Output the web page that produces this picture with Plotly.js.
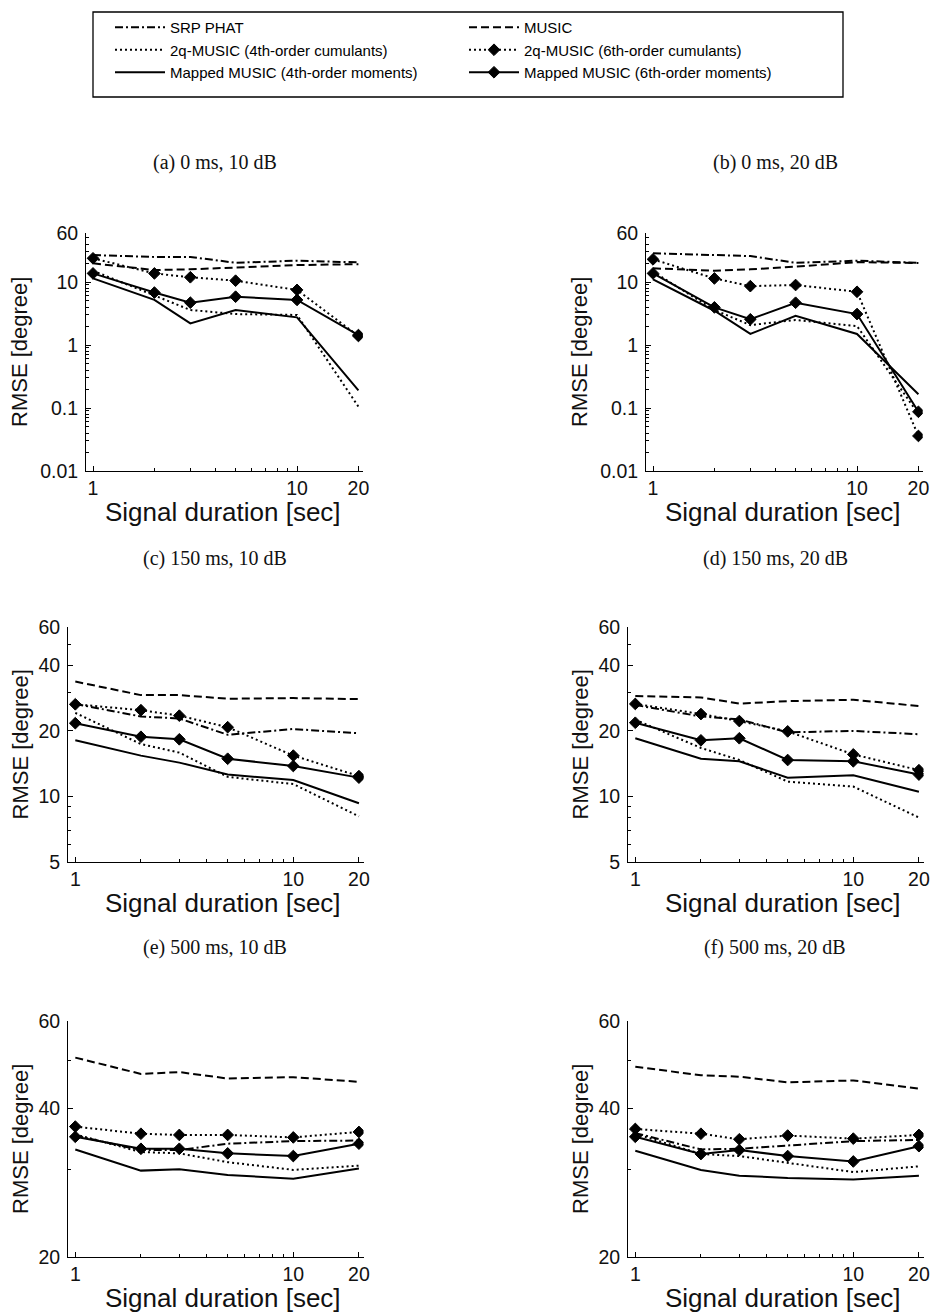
<!DOCTYPE html>
<html>
<head>
<meta charset="utf-8">
<script src="https://cdn.plot.ly/plotly-3.0.1.min.js"></script>
<style>
  html, body { margin: 0; padding: 0; background: #fff; }
  #chart { width: 933px; height: 1315px; }
</style>
</head>
<body>
<div id="chart"></div>
<script>
// ---------- data ----------
const durations = [1, 2, 3, 5, 10, 20];
const seriesNames = ["SRP PHAT", "MUSIC", "2q-MUSIC (4th-order cumulants)", "2q-MUSIC (6th-order cumulants)",
                     "Mapped MUSIC (4th-order moments)", "Mapped MUSIC (6th-order moments)"];
const panelTitles = ["(a) 0 ms, 10 dB", "(b) 0 ms, 20 dB", "(c) 150 ms, 10 dB",
                     "(d) 150 ms, 20 dB", "(e) 500 ms, 10 dB", "(f) 500 ms, 20 dB"];
const xTickVals = [1, 10, 20];
const xTickText = ["1", "10", "20"];
const yTickVals1 = [0.01, 0.1, 1, 10, 60];
const yTickText1 = ["0.01", "0.1", "1", "10", "60"];
const yTickVals2 = [5, 10, 20, 40, 60];
const yTickText2 = ["5", "10", "20", "40", "60"];
const yTickVals3 = [20, 40, 60];
const yTickText3 = ["20", "40", "60"];

// (a) 0 ms, 10 dB
const srp_a   = [26.8, 25.0, 25.0, 20.2, 21.8, 20.5];
const music_a = [19.8, 15.5, 15.9, 17.1, 18.6, 19.2];
const q4_a    = [15.1, 6.2, 3.6, 3.1, 3.0, 0.105];
const q6_a    = [23.8, 13.7, 11.9, 10.5, 7.5, 1.39];
const m4_a    = [11.4, 5.2, 2.2, 3.6, 2.75, 0.19];
const m6_a    = [13.7, 6.8, 4.7, 5.85, 5.2, 1.44];
// (b) 0 ms, 20 dB
const srp_b   = [28.6, 26.8, 25.8, 20.2, 21.8, 20.2];
const music_b = [16.5, 15.1, 15.9, 17.5, 20.7, 20.0];
const q4_b    = [14.6, 3.6, 2.07, 2.5, 2.0, 0.08];
const q6_b    = [22.9, 11.4, 8.6, 8.96, 7.0, 0.036];
const m4_b    = [11.0, 3.5, 1.5, 2.9, 1.5, 0.165];
const m6_b    = [13.7, 3.96, 2.56, 4.69, 3.1, 0.087];
// (c) 150 ms, 10 dB
const srp_c   = [26.6, 23.3, 22.8, 19.2, 20.4, 19.5];
const music_c = [33.7, 29.2, 29.2, 28.1, 28.3, 28.0];
const q4_c    = [24.2, 17.4, 15.9, 12.3, 11.4, 8.1];
const q6_c    = [26.5, 24.9, 23.5, 20.8, 15.4, 12.4];
const m4_c    = [18.1, 15.4, 14.3, 12.6, 11.9, 9.3];
const m6_c    = [21.7, 18.8, 18.3, 14.9, 13.8, 12.2];
// (d) 150 ms, 20 dB
const srp_d   = [26.3, 23.3, 22.6, 19.7, 20.0, 19.3];
const music_d = [28.9, 28.5, 26.7, 27.4, 27.8, 26.0];
const q4_d    = [22.5, 16.7, 14.7, 11.7, 11.1, 8.0];
const q6_d    = [26.6, 23.9, 22.2, 19.9, 15.6, 13.2];
const m4_d    = [18.5, 14.9, 14.5, 12.2, 12.5, 10.5];
const m6_d    = [21.8, 18.1, 18.5, 14.7, 14.5, 12.6];
// (e) 500 ms, 10 dB
const srp_e   = [35.2, 32.9, 32.9, 33.9, 34.3, 34.4];
const music_e = [50.6, 46.9, 47.3, 45.9, 46.2, 45.2];
const q4_e    = [35.4, 32.6, 32.4, 31.1, 30.0, 30.6];
const q6_e    = [36.7, 35.5, 35.3, 35.3, 34.9, 35.8];
const m4_e    = [33.0, 29.9, 30.1, 29.3, 28.8, 30.2];
const m6_e    = [35.0, 33.1, 33.1, 32.4, 32.0, 33.9];
// (f) 500 ms, 20 dB
const srp_f   = [35.6, 33.0, 33.1, 33.6, 34.3, 34.5];
const music_f = [48.5, 46.6, 46.3, 45.1, 45.5, 43.8];
const q4_f    = [35.5, 32.3, 32.0, 31.0, 29.7, 30.5];
const q6_f    = [36.3, 35.5, 34.6, 35.2, 34.7, 35.3];
const m4_f    = [32.8, 30.0, 29.2, 28.9, 28.7, 29.2];
const m6_f    = [35.0, 32.3, 32.9, 32.0, 31.2, 33.5];

const panelData = [
  [srp_a, music_a, q4_a, q6_a, m4_a, m6_a],
  [srp_b, music_b, q4_b, q6_b, m4_b, m6_b],
  [srp_c, music_c, q4_c, q6_c, m4_c, m6_c],
  [srp_d, music_d, q4_d, q6_d, m4_d, m6_d],
  [srp_e, music_e, q4_e, q6_e, m4_e, m6_e],
  [srp_f, music_f, q4_f, q6_f, m4_f, m6_f]
];

// ---------- layout geometry (pixels) ----------
const W = 933, H = 1315;
const styles = [
  {dash: "8px,3px,2px,3px", marker: false},
  {dash: "8px,4px", marker: false},
  {dash: "2px,3px", marker: false},
  {dash: "2px,3px", marker: true},
  {dash: "solid", marker: false},
  {dash: "solid", marker: true}
];
const panels = [
  {l: 86,  r: 362.7, t: 233,  b: 471,  ty: 162, xr: [-0.0343, 1.322], yr: [-2, Math.log10(60)], yt: [yTickVals1, yTickText1]},
  {l: 646, r: 922.7, t: 233,  b: 471,  ty: 162, xr: [-0.0343, 1.322], yr: [-2, Math.log10(60)], yt: [yTickVals1, yTickText1]},
  {l: 68,  r: 363.5, t: 627,  b: 862,  ty: 559, xr: [-0.0335, 1.322], yr: [Math.log10(5), Math.log10(60)], yt: [yTickVals2, yTickText2]},
  {l: 628, r: 923.5, t: 627,  b: 862,  ty: 559, xr: [-0.0335, 1.322], yr: [Math.log10(5), Math.log10(60)], yt: [yTickVals2, yTickText2]},
  {l: 68,  r: 363.5, t: 1021, b: 1257, ty: 947, xr: [-0.0335, 1.322], yr: [Math.log10(20), Math.log10(60)], yt: [yTickVals3, yTickText3]},
  {l: 628, r: 923.5, t: 1021, b: 1257, ty: 947, xr: [-0.0335, 1.322], yr: [Math.log10(20), Math.log10(60)], yt: [yTickVals3, yTickText3]}
];

const sans = "Liberation Sans, Arial, sans-serif";
const tickFont = {family: sans, size: 19.5, color: "#111"};
const traces = [];
const layout = {
  width: W, height: H,
  margin: {l: 0, r: 0, t: 0, b: 0},
  paper_bgcolor: "#fff", plot_bgcolor: "#fff",
  showlegend: true,
  legend: {
    orientation: "h", x: 110 / W, xanchor: "left", y: 1 - 11 / H, yanchor: "top",
    borderwidth: 0, bgcolor: "rgba(0,0,0,0)",
    font: {family: sans, size: 15, color: "#000"},
    itemwidth: 50, entrywidth: 289, traceorder: "normal", itemclick: false
  },
  shapes: [{
    type: "rect", xref: "paper", yref: "paper",
    x0: 93 / W, x1: 843 / W, y0: 1 - 97 / H, y1: 1 - 12 / H,
    line: {color: "#000", width: 1.3}, fillcolor: "rgba(0,0,0,0)", layer: "below"
  }],
  annotations: []
};

panels.forEach((p, i) => {
  const k = i + 1;
  const xa = "xaxis" + (k === 1 ? "" : k), ya = "yaxis" + (k === 1 ? "" : k);
  const xr = "x" + (k === 1 ? "" : k), yr = "y" + (k === 1 ? "" : k);
  layout[xa] = {
    type: "log", domain: [p.l / W, p.r / W], range: p.xr, anchor: yr,
    tickmode: "array", tickvals: xTickVals, ticktext: xTickText,
    ticks: "inside", ticklen: 5, tickwidth: 1, tickcolor: "#000",
    minor: {ticks: "inside", ticklen: 3, dtick: "D1", tickcolor: "#000", showgrid: false},
    showline: true, linecolor: "#000", linewidth: 1, showgrid: false, zeroline: false,
    tickfont: tickFont, ticklabelstandoff: 0, fixedrange: true
  };
  layout[ya] = {
    type: "log", domain: [1 - p.b / H, 1 - p.t / H], range: p.yr, anchor: xr,
    tickmode: "array", tickvals: p.yt[0], ticktext: p.yt[1],
    ticks: "inside", ticklen: 5, tickwidth: 1, tickcolor: "#000",
    minor: {ticks: "inside", ticklen: 3, dtick: "D1", tickcolor: "#000", showgrid: false},
    showline: true, linecolor: "#000", linewidth: 1, showgrid: false, zeroline: false,
    tickfont: tickFont, ticklabelstandoff: 3, fixedrange: true
  };
  panelData[i].forEach((vals, s) => {
    const st = styles[s];
    traces.push({
      type: "scatter", mode: st.marker ? "lines+markers" : "lines",
      x: durations, y: vals, xaxis: xr, yaxis: yr,
      name: seriesNames[s], legendgroup: seriesNames[s], showlegend: i === 0,
      line: {color: "#000", width: 2, dash: st.dash},
      marker: {symbol: "diamond", size: 9, color: "#000", line: {width: 1, color: "#000"}},
      hoverinfo: "skip"
    });
  });
  // panel title (caption)
  layout.annotations.push({
    text: panelTitles[i], xref: "paper", yref: "paper",
    x: (i % 2 === 0 ? 215 : 775) / W, y: 1 - p.ty / H,
    xanchor: "center", yanchor: "middle", showarrow: false,
    font: {family: "Liberation Serif, Times New Roman, serif", size: 20, color: "#111"}
  });
  // y axis title
  layout.annotations.push({
    text: "RMSE [degree]", xref: "paper", yref: "paper",
    x: (i % 2 === 0 ? 20 : 580) / W, y: 1 - ((p.t + p.b) / 2) / H,
    xanchor: "center", yanchor: "middle", textangle: -90, showarrow: false,
    font: {family: sans, size: 22, color: "#111"}
  });
  // x axis title
  layout.annotations.push({
    text: "Signal duration [sec]", xref: "paper", yref: "paper",
    x: (i % 2 === 0 ? 223 : 783) / W, y: 1 - (p.b + 41) / H,
    xanchor: "center", yanchor: "middle", showarrow: false,
    font: {family: sans, size: 26, color: "#111"}
  });
});

Plotly.newPlot("chart", traces, layout, {staticPlot: true, displayModeBar: false});
</script>
</body>
</html>
